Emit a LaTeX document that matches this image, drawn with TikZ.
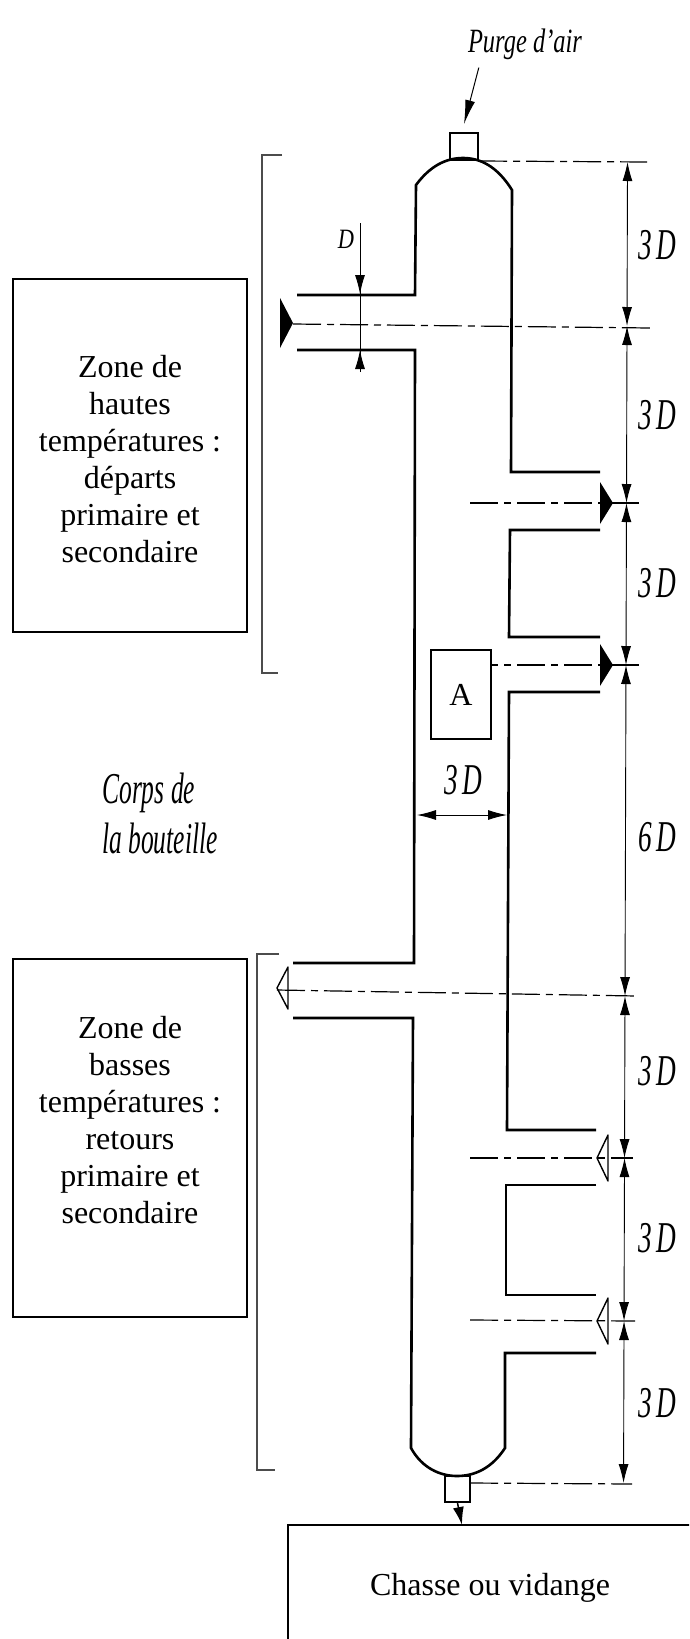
\documentclass[tikz,border=0pt]{standalone}
\usepackage{fontspec}
\setmainfont{Liberation Serif}
\usetikzlibrary{arrows.meta}

\newcommand{\etroit}[2]{\scalebox{#1}[1]{#2}}

\begin{document}
\begin{tikzpicture}
[
	x=1pt, y=-1pt,
	paroi/.style = {line width=2.6pt, line join=miter},
	axe/.style = {line width=1.2pt, dash pattern=on 28pt off 6pt on 7pt off 6pt},
	cote/.style = {line width=0.9pt, {Latex[length=19pt,width=10pt]}-{Latex[length=19pt,width=10pt]}},
	fleche/.style = {line width=0.9pt, -{Latex[length=19pt,width=10pt]}},
	zone/.style = {rectangle, draw, line width=1.4pt, fill=white, inner sep=0pt},
	texte/.style = {align=center, font=\fontsize{32}{37}\selectfont},
	mesure/.style = {font=\fontsize{44}{50}\selectfont\itshape, inner sep=0pt},
	bouchon/.style = {rectangle, draw, line width=2pt, inner sep=0pt},
	crochet/.style = {line width=1.5pt, draw=black!70},
	pics/pleine/.style = {code={\fill (0,0) -- (-13,-#1) -- (-13,#1) -- cycle;}},
	pics/creuse/.style = {code={\draw[line width=1.4pt, line join=round] (0,0) -- (11,-#1) -- (11,#1) -- cycle;}}
]
\useasboundingbox (0,0) rectangle (689,1639);
\clip (0,0) rectangle (689,1639);

\draw[paroi] (297,295) -- (415,295) -- (416,185) .. controls (430,166) and (446,158) .. (463,158)
	.. controls (480,158) and (497,166) .. (512,190) -- (511,472) -- (600,472);
\draw[paroi] (600,530) -- (510,530) -- (509,637) -- (600,637);
\draw[paroi] (600,692) -- (509,692) -- (507,1130) -- (596,1130);
\draw[paroi] (596,1185) -- (506,1185) -- (506,1295) -- (596,1295);
\draw[paroi] (596,1353) -- (505,1353) -- (505,1448) .. controls (492,1468) and (475,1476) .. (457,1476)
	.. controls (440,1476) and (422,1468) .. (411,1448) -- (413,1018) -- (293,1018);
\draw[paroi] (297,350) -- (415,350) -- (414,963) -- (293,963);

\node[bouchon, minimum width=28pt, minimum height=27pt] (bouchonHaut) at (464,146.5) {};
\node[bouchon, minimum width=25pt, minimum height=26pt] (bouchonBas) at (457.5,1489) {};

\draw[axe] (bouchonHaut.south east) -- (647,162);
\draw[axe] (293,324) -- (650,328);
\draw[axe] (470,503) -- (640,503);
\draw[axe] (470,665) -- (640,665);
\draw[axe] (277,990) -- (637,996);
\draw[axe] (470,1158) -- (633,1158);
\draw[axe] (470,1320) -- (635,1321);
\draw[axe] (470,1483) -- (632,1484);

\foreach \ya/\yb in {162/326, 326/503, 503/665, 665/996, 996/1158, 1158/1321, 1321/1483}
	\draw[cote] (628-0.003*\ya,\ya) -- (628-0.003*\yb,\yb);
\foreach \y/\n in {245/3, 415/3, 583/3, 837/6, 1071/3, 1238/3, 1403/3}
	\node[mesure] (cote\y) at (657,\y) {\etroit{0.62}{\n\,D}};

\draw[cote] (417,815) -- (507,815);
\node[mesure] (diametre) at (463,780) {\etroit{0.62}{3\,D}};

\draw[line width=0.9pt] (360,223) -- (360,372);
\draw[fleche] (360,223) -- (360,294);
\draw[fleche] (360,372) -- (360,350);
\node[mesure, font=\fontsize{28}{32}\selectfont\itshape] (d) at (346,239) {\etroit{0.8}{D}};

\pic at (293,323) {pleine=25};
\pic at (613,503) {pleine=21};
\pic at (613,665) {pleine=21};
\pic at (277,988) {creuse=21};
\pic at (597,1158) {creuse=23};
\pic at (597,1321) {creuse=23};

\draw[crochet] (282,155) -- (262,155) -- (262,673) -- (278,673);
\draw[crochet] (279,954) -- (257,954) -- (257,1470) -- (275,1470);

\node[zone, minimum width=234pt, minimum height=353pt] (zoneHaute) at (130,455.5) {};
\node[texte] (texteHaute) at (130,459.5) {Zone de\\hautes\\températures :\\départs\\primaire et\\secondaire};
\node[zone, minimum width=234pt, minimum height=358pt] (zoneBasse) at (130,1138) {};
\node[texte] (texteBasse) at (130,1120) {Zone de\\basses\\températures :\\retours\\primaire et\\secondaire};

\node[zone, minimum width=60pt, minimum height=89pt, font=\fontsize{32}{37}\selectfont] (boiteA) at (461,694.5) {A};

\node[mesure, align=left] (corps) at (160,813) {\etroit{0.58}{Corps de}\\\etroit{0.58}{la bouteille}};

\node[mesure, font=\fontsize{34}{40}\selectfont\itshape] (purge) at (525,44) {\etroit{0.72}{Purge d'air}};
\draw[line width=1pt, -{Latex[length=24pt,width=10pt]}] ([xshift=11pt,yshift=-8pt]purge.south west) -- ([yshift=8pt]bouchonHaut.north);

\node[zone, texte, minimum width=404pt, minimum height=126pt] (chasse) at (490,1588) {Chasse ou vidange};
\coordinate (sortie) at (462,1525);
\draw[line width=1.5pt, -{Latex[length=18pt,width=11pt]}] (bouchonBas.south) -- (sortie);

\end{tikzpicture}
\end{document}
